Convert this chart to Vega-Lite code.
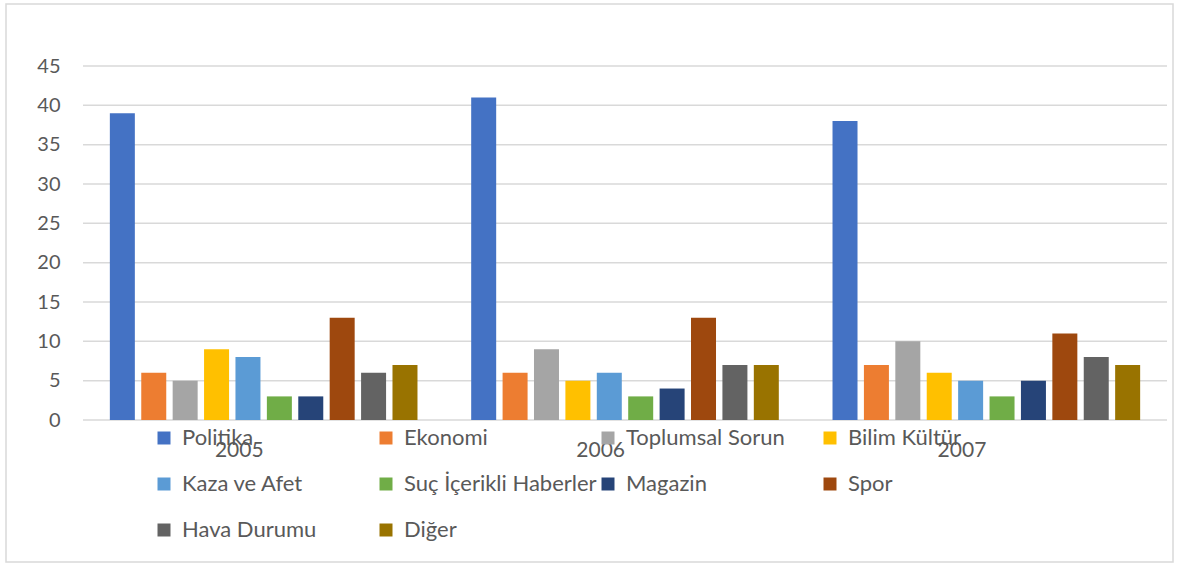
{
  "$schema": "https://vega.github.io/schema/vega-lite/v6.json",
  "width": 1167,
  "height": 558,
  "autosize": {"type": "none"},
  "padding": {"left": 6, "top": 4, "right": 11, "bottom": 1},
  "background": "white",
  "config": {
    "view": {"stroke": "#d9d9d9", "strokeWidth": 1.5},
    "font": "Lato"
  },
  "datasets": {
    "haberler": [
      {"yil": "2005", "kategori": "Politika", "deger": 39},
      {"yil": "2005", "kategori": "Ekonomi", "deger": 6},
      {"yil": "2005", "kategori": "Toplumsal Sorun", "deger": 5},
      {"yil": "2005", "kategori": "Bilim Kültür", "deger": 9},
      {"yil": "2005", "kategori": "Kaza ve Afet", "deger": 8},
      {"yil": "2005", "kategori": "Suç İçerikli Haberler", "deger": 3},
      {"yil": "2005", "kategori": "Magazin", "deger": 3},
      {"yil": "2005", "kategori": "Spor", "deger": 13},
      {"yil": "2005", "kategori": "Hava Durumu", "deger": 6},
      {"yil": "2005", "kategori": "Diğer", "deger": 7},
      {"yil": "2006", "kategori": "Politika", "deger": 41},
      {"yil": "2006", "kategori": "Ekonomi", "deger": 6},
      {"yil": "2006", "kategori": "Toplumsal Sorun", "deger": 9},
      {"yil": "2006", "kategori": "Bilim Kültür", "deger": 5},
      {"yil": "2006", "kategori": "Kaza ve Afet", "deger": 6},
      {"yil": "2006", "kategori": "Suç İçerikli Haberler", "deger": 3},
      {"yil": "2006", "kategori": "Magazin", "deger": 4},
      {"yil": "2006", "kategori": "Spor", "deger": 13},
      {"yil": "2006", "kategori": "Hava Durumu", "deger": 7},
      {"yil": "2006", "kategori": "Diğer", "deger": 7},
      {"yil": "2007", "kategori": "Politika", "deger": 38},
      {"yil": "2007", "kategori": "Ekonomi", "deger": 7},
      {"yil": "2007", "kategori": "Toplumsal Sorun", "deger": 10},
      {"yil": "2007", "kategori": "Bilim Kültür", "deger": 6},
      {"yil": "2007", "kategori": "Kaza ve Afet", "deger": 5},
      {"yil": "2007", "kategori": "Suç İçerikli Haberler", "deger": 3},
      {"yil": "2007", "kategori": "Magazin", "deger": 5},
      {"yil": "2007", "kategori": "Spor", "deger": 11},
      {"yil": "2007", "kategori": "Hava Durumu", "deger": 8},
      {"yil": "2007", "kategori": "Diğer", "deger": 7}
    ],
    "izgara": [
      {"v": 0}, {"v": 5}, {"v": 10}, {"v": 15}, {"v": 20},
      {"v": 25}, {"v": 30}, {"v": 35}, {"v": 40}, {"v": 45}
    ]
  },
  "layer": [
    {
      "data": {"name": "izgara"},
      "mark": {"type": "rule", "color": "#d9d9d9", "strokeWidth": 1.5},
      "encoding": {
        "y": {"field": "v", "type": "quantitative", "title": null},
        "x": {"datum": "2005", "type": "nominal", "bandPosition": 0, "title": null},
        "x2": {"datum": "2007", "bandPosition": 1}
      }
    },
    {
      "data": {"name": "haberler"},
      "mark": {"type": "bar"},
      "encoding": {
        "x": {
          "field": "yil",
          "type": "nominal",
          "title": null,
          "scale": {"range": [77, 1161], "paddingInner": 0, "paddingOuter": 0},
          "axis": {
            "orient": "bottom",
            "offset": -142,
            "labelAngle": 0,
            "labelPadding": 30,
            "ticks": false,
            "tickSize": 0,
            "domain": false,
            "grid": false,
            "labelFont": "Lato",
            "labelFontSize": 21,
            "labelColor": "#595959"
          }
        },
        "xOffset": {
          "field": "kategori",
          "type": "nominal",
          "sort": ["Politika", "Ekonomi", "Toplumsal Sorun", "Bilim Kültür", "Kaza ve Afet", "Suç İçerikli Haberler", "Magazin", "Spor", "Hava Durumu", "Diğer"],
          "scale": {"paddingInner": 0.204, "paddingOuter": 0.855}
        },
        "y": {
          "field": "deger",
          "type": "quantitative",
          "title": null,
          "scale": {"domain": [0, 45], "range": [416, 62], "nice": false, "zero": true},
          "axis": {
            "orient": "left",
            "offset": -62,
            "labelPadding": 8,
            "ticks": false,
            "tickSize": 0,
            "domain": false,
            "grid": false,
            "values": [0, 5, 10, 15, 20, 25, 30, 35, 40, 45],
            "labelFont": "Lato",
            "labelFontSize": 20,
            "labelColor": "#595959"
          }
        },
        "color": {
          "field": "kategori",
          "type": "nominal",
          "scale": {
            "domain": ["Politika", "Ekonomi", "Toplumsal Sorun", "Bilim Kültür", "Kaza ve Afet", "Suç İçerikli Haberler", "Magazin", "Spor", "Hava Durumu", "Diğer"],
            "range": ["#4472c4", "#ed7d31", "#a5a5a5", "#ffc000", "#5b9bd5", "#70ad47", "#264478", "#9e480e", "#636363", "#997300"]
          },
          "legend": {
            "orient": "none",
            "legendX": 147,
            "legendY": 423,
            "columns": 4,
            "direction": "horizontal",
            "title": null,
            "symbolType": "square",
            "symbolSize": 169,
            "symbolStrokeWidth": 0,
            "symbolOpacity": 1,
            "labelFont": "Lato",
            "labelFontSize": 22,
            "labelColor": "#595959",
            "labelOffset": 7,
            "labelLimit": 400,
            "columnPadding": 0,
            "rowPadding": 24,
            "gridAlign": "all",
            "padding": 0
          }
        }
      }
    }
  ]
}
